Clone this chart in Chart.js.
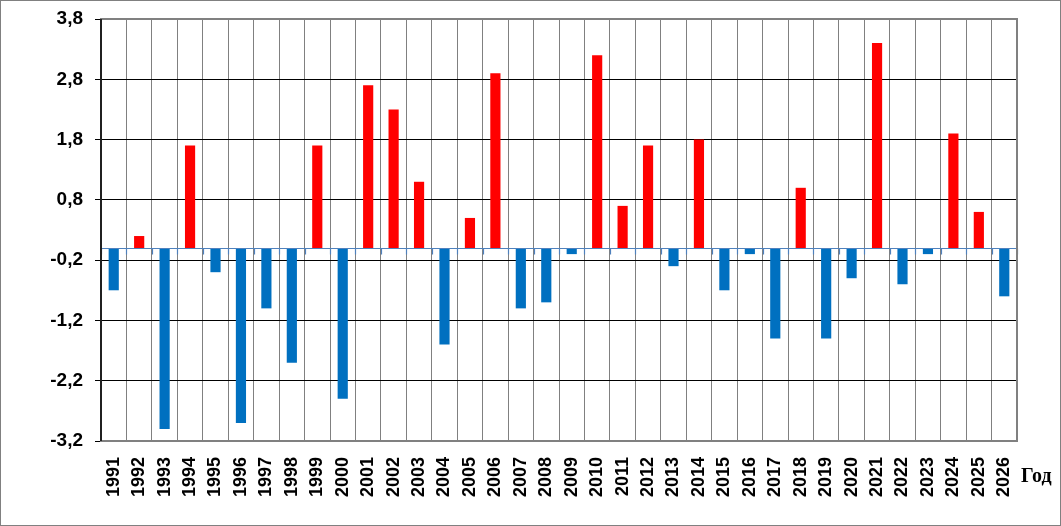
<!DOCTYPE html>
<html>
<head>
<meta charset="utf-8">
<script src="https://cdn.jsdelivr.net/npm/chart.js@4"></script>
<style>
  html, body { margin: 0; padding: 0; background: #fff; }
  #wrap { width: 1061px; height: 526px; position: relative; }
</style>
</head>
<body>
<div id="wrap"><canvas id="c" width="1061" height="526"></canvas></div>
<script>
const years = ['1991','1992','1993','1994','1995','1996','1997','1998','1999','2000',
  '2001','2002','2003','2004','2005','2006','2007','2008','2009','2010',
  '2011','2012','2013','2014','2015','2016','2017','2018','2019','2020',
  '2021','2022','2023','2024','2025','2026'];
const anomalies = [-0.7, 0.2, -3.0, 1.7, -0.4, -2.9, -1.0, -1.9, 1.7, -2.5,
  2.7, 2.3, 1.1, -1.6, 0.5, 2.9, -1.0, -0.9, -0.1, 3.2,
  0.7, 1.7, -0.3, 1.8, -0.7, -0.1, -1.5, 1.0, -1.5, -0.5,
  3.4, -0.6, -0.1, 1.9, 0.6, -0.8];
const yTicks = [-3.2, -2.2, -1.2, -0.2, 0.8, 1.8, 2.8, 3.8];
const xAxisTitle = 'Год';

const decor = {
  id: 'decor',
  beforeDraw(chart) {
    const ctx = chart.ctx;
    ctx.save();
    ctx.fillStyle = '#fff';
    ctx.fillRect(0, 0, chart.width, chart.height);
    ctx.restore();
  },
  afterDatasetsDraw(chart) {
    const ctx = chart.ctx, a = chart.chartArea;
    const x = chart.scales.x, y = chart.scales.y;
    const y0 = Math.round(y.getPixelForValue(0)) + 0.5;
    ctx.save();
    // zero line with category ticks
    ctx.strokeStyle = '#4F81BD';
    ctx.lineWidth = 1.2;
    ctx.beginPath();
    ctx.moveTo(a.left, y0);
    ctx.lineTo(a.right, y0);
    const half = (x.getPixelForValue(1) - x.getPixelForValue(0)) / 2;
    for (let i = 0; i <= years.length; i++) {
      const px = Math.round(x.getPixelForValue(i) - half) + 0.5;
      ctx.moveTo(px, y0);
      ctx.lineTo(px, y0 + 6);
    }
    ctx.stroke();
    // plot border
    ctx.strokeStyle = '#808080';
    ctx.lineWidth = 2;
    ctx.strokeRect(a.left, a.top, a.right - a.left, a.bottom - a.top);
    ctx.strokeStyle = '#000';
    ctx.lineWidth = 1.5;
    ctx.beginPath();
    ctx.moveTo(a.left, a.top);
    ctx.lineTo(a.left, a.bottom);
    ctx.stroke();
    // axis title
    ctx.fillStyle = '#000';
    ctx.font = 'bold 20px "Liberation Serif", "Times New Roman", serif';
    ctx.textAlign = 'left';
    ctx.textBaseline = 'middle';
    ctx.fillText(xAxisTitle, a.right + 4, a.bottom + 36);
    // outer frame
    ctx.strokeStyle = '#808080';
    ctx.lineWidth = 1;
    ctx.strokeRect(0.5, 0.5, chart.width - 1, chart.height - 1);
    ctx.restore();
  }
};

new Chart(document.getElementById('c'), {
  type: 'bar',
  data: {
    labels: years,
    datasets: [{
      data: anomalies,
      backgroundColor: (c) => (c.raw >= 0 ? '#FF0000' : '#0070C0'),
      borderWidth: 0,
      barPercentage: 0.4,
      categoryPercentage: 1.0
    }]
  },
  options: {
    responsive: false,
    animation: false,
    devicePixelRatio: 1,
    layout: { padding: { left: 0, top: 19, right: 44, bottom: 0 } },
    plugins: { legend: { display: false }, tooltip: { enabled: false } },
    scales: {
      x: {
        offset: true,
        grid: { color: '#808080', lineWidth: 1, offset: true, drawTicks: false },
        border: { color: '#808080', width: 2 },
        ticks: {
          minRotation: 90, maxRotation: 90, autoSkip: false, padding: 16,
          color: '#000',
          font: { family: '"Liberation Sans", Arial, sans-serif', size: 18, weight: 'bold' }
        },
        afterFit(s) { s.height = 85; }
      },
      y: {
        min: -3.2, max: 3.8,
        afterBuildTicks(s) { s.ticks = yTicks.map(v => ({ value: v })); },
        grid: { color: '#000', lineWidth: 1, tickLength: 6, drawTicks: true },
        border: { color: '#000', width: 1.5 },
        ticks: {
          padding: 12, color: '#000',
          font: { family: '"Liberation Sans", Arial, sans-serif', size: 19, weight: 'bold' },
          callback: (v) => Number(v).toFixed(1).replace('.', ',')
        },
        afterFit(s) { s.width = 101; s.paddingTop = 0; s.paddingBottom = 0; }
      }
    }
  },
  plugins: [decor]
});
</script>
</body>
</html>
